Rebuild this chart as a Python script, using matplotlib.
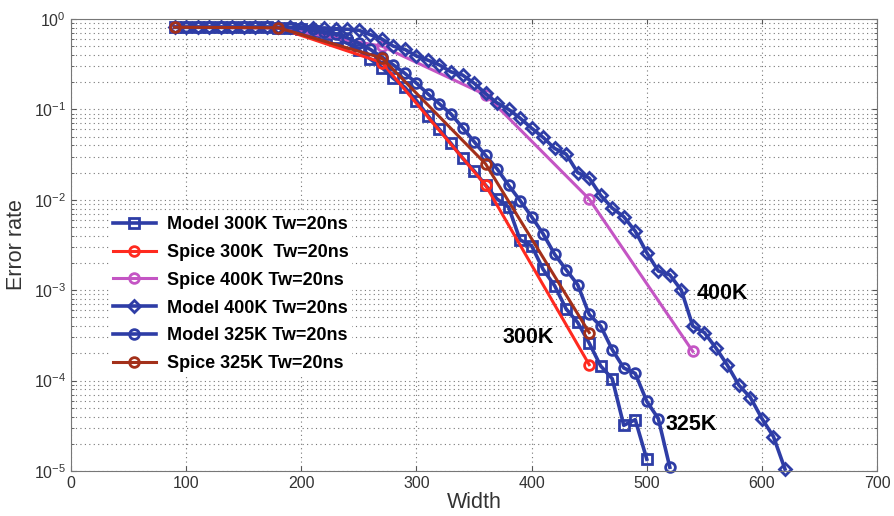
import numpy as np
import matplotlib
matplotlib.use("Agg")
import matplotlib.pyplot as plt

plt.rcParams['font.family'] = ['Liberation Sans', 'DejaVu Sans']
plt.rcParams['mathtext.fontset'] = 'custom'
plt.rcParams['mathtext.rm'] = 'Liberation Sans'

# widths
w_model300 = list(range(90, 501, 10))
w_model325 = list(range(90, 521, 10))
w_model400 = list(range(90, 621, 10))
w_spice = [90, 180, 270, 360, 450]
w_spice400 = [90, 180, 270, 360, 450, 540]

# error rates
model300 = [0.81, 0.81, 0.81, 0.81, 0.81, 0.81, 0.81, 0.81, 0.81, 0.80, 0.79,
            0.77, 0.74, 0.69, 0.62, 0.54, 0.45, 0.36, 0.29, 0.22, 0.175,
            0.125, 0.085, 0.060, 0.042, 0.029, 0.021, 0.0145, 0.0102, 0.0083, 0.0036,
            0.0031, 0.0017, 0.00112, 0.00062, 0.00044, 0.00026, 0.000145, 0.000105,
            0.000032, 0.000037, 0.0000135]
model325 = [0.81, 0.81, 0.81, 0.81, 0.81, 0.81, 0.81, 0.81, 0.81, 0.80, 0.80,
            0.79, 0.77, 0.72, 0.68, 0.62, 0.54, 0.46, 0.38, 0.31, 0.25,
            0.195, 0.148, 0.115, 0.089, 0.063, 0.044, 0.031, 0.022, 0.0145, 0.0098,
            0.0065, 0.0042, 0.0025, 0.00168, 0.00115, 0.00054, 0.00040, 0.00022,
            0.000138, 0.00012, 0.000059, 0.000038, 0.000011]
model400 = [0.81, 0.81, 0.81, 0.81, 0.81, 0.81, 0.81, 0.81, 0.81, 0.81, 0.81,
            0.80, 0.80, 0.79, 0.78, 0.77, 0.75, 0.67, 0.60, 0.50, 0.46,
            0.39, 0.35, 0.31, 0.26, 0.24, 0.195, 0.15, 0.118, 0.10, 0.08,
            0.062, 0.049, 0.037, 0.032, 0.020, 0.0174, 0.0112, 0.0081, 0.0065, 0.0045,
            0.0026, 0.00163, 0.00148, 0.0010, 0.00040, 0.00034, 0.00023, 0.000148,
            0.000089, 0.000065, 0.000038, 0.000024, 0.0000105]
spice300 = [0.81, 0.80, 0.33, 0.0145, 0.00015]
spice325 = [0.81, 0.80, 0.37, 0.025, 0.00034]
spice400 = [0.81, 0.80, 0.50, 0.145, 0.0102, 0.00021]

blue = '#2e3da6'
red = '#ff2a1f'
pink = '#c455c4'
brown = '#a3301a'

fig = plt.figure(figsize=(8.95, 5.16), dpi=100)
ax = fig.add_axes([0.0793, 0.0872, 0.9007, 0.876])

ms = 7
mew = 2.0
common = dict(ms=ms, mew=mew, mfc='none', clip_on=False)
ax.plot(w_model300, model300, '-s', color=blue, lw=2.6, label='Model 300K Tw=20ns', **common)
ax.plot(w_spice, spice300, '-o', color=red, lw=2.2, label='Spice 300K  Tw=20ns', **common)
ax.plot(w_spice400, spice400, '-o', color=pink, lw=2.2, label='Spice 400K Tw=20ns', **common)
ax.plot(w_model400, model400, '-D', color=blue, lw=2.6, label='Model 400K Tw=20ns',
        ms=ms * 0.85, mew=mew, mfc='none', clip_on=False)
ax.plot(w_model325, model325, '-o', color=blue, lw=2.6, label='Model 325K Tw=20ns', **common)
ax.plot(w_spice, spice325, '-o', color=brown, lw=2.2, label='Spice 325K Tw=20ns', **common)

ax.set_yscale('log')
ax.set_xlim(0, 700)
ax.set_ylim(1e-5, 1)
ax.set_xticks(range(0, 701, 100))

ax.grid(True, which='major', linestyle=(0, (1, 3)), color='#777777', lw=0.8)
ax.grid(True, which='minor', axis='y', linestyle=(0, (1, 3)), color='#777777', lw=0.8)
ax.set_axisbelow(True)
ax.tick_params(which='both', direction='in', top=True, right=True, colors='#555555',
               labelcolor='#333333', labelsize=11.5)
for s in ax.spines.values():
    s.set_color('#777777')

ax.set_xlabel('Width', fontsize=15.5, color='#333333', labelpad=1)
ax.set_ylabel('Error rate', fontsize=15.5, color='#333333', labelpad=5)

ax.text(543, 9.3e-4, '400K', fontsize=15.5, fontweight='bold', va='center')
ax.text(375, 3.0e-4, '300K', fontsize=15.5, fontweight='bold', va='center')
ax.text(516, 3.3e-5, '325K', fontsize=15.5, fontweight='bold', va='center')

leg = ax.legend(loc='upper left', bbox_to_anchor=(0.036, 0.592), frameon=True,
                fancybox=False, edgecolor='none', facecolor='white', framealpha=1,
                prop={'weight': 'bold', 'size': 13}, handlelength=2.4,
                labelspacing=0.6, borderpad=0.2, handletextpad=0.6)

fig.savefig('out.png', dpi=100)
